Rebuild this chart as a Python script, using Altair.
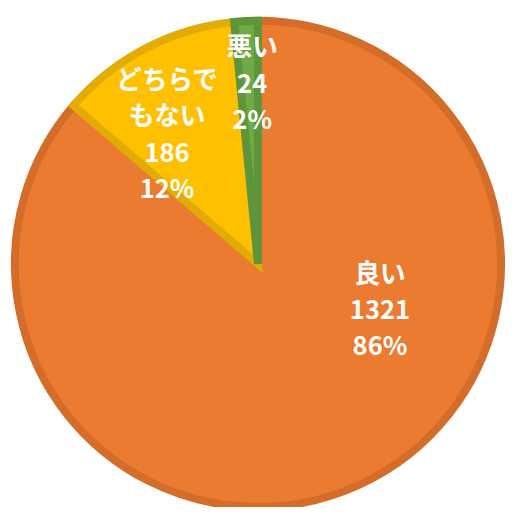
import altair as alt
import pandas as pd

# data
categories = ["良い", "どちらでもない", "悪い"]
label_names = ["良い", "どちらで\nもない", "悪い"]
values = [1321, 186, 24]
fill_colors = ["#EB7B30", "#FFC000", "#6FAA46"]
stroke_colors = ["#D46D29", "#E2AC05", "#5D963A"]

total = sum(values)
pcts = [round(v / total * 100) for v in values]

df = pd.DataFrame({
    "cat": categories,
    "value": values,
    "order": list(range(len(categories))),
    "label": [f"{n}\n{v}\n{p}%" for n, v, p in zip(label_names, values, pcts)],
})

CX, CY = 254, 256
LH = 37

theta = alt.Theta("value:Q", stack=True)
order = alt.Order("order:Q", sort="ascending")

arc = alt.Chart(df).mark_arc(
    outerRadius=247, strokeWidth=8, x=CX, y=CY
).encode(
    theta=theta,
    order=order,
    color=alt.Color("cat:N", scale=alt.Scale(domain=categories, range=fill_colors), legend=None),
    stroke=alt.Stroke("cat:N", scale=alt.Scale(domain=categories, range=stroke_colors), legend=None),
)

def label_layer(cat, radius, dx, dy):
    return alt.Chart(df).transform_calculate(
        t=f"datum.cat == '{cat}' ? datum.label : ''"
    ).mark_text(
        radius=radius, dx=dx, dy=dy, x=CX, y=CY,
        lineBreak="\n", lineHeight=LH,
        font="Noto Sans CJK JP", fontSize=26, fontWeight="bold",
        color="white", align="center", baseline="middle",
    ).encode(
        theta=theta,
        order=order,
        text="t:N",
    )

chart = alt.layer(
    arc,
    label_layer("良い", 0, 124, 11),
    label_layer("どちらでもない", 161, -18, -43),
    label_layer("悪い", 181, 3, -38),
).properties(
    width=506, height=499,
    autosize=alt.AutoSizeParams(type="none"),
    padding=0,
).configure_view(stroke=None)

chart.save("out.html", embed_options={"renderer": "svg", "actions": False})
